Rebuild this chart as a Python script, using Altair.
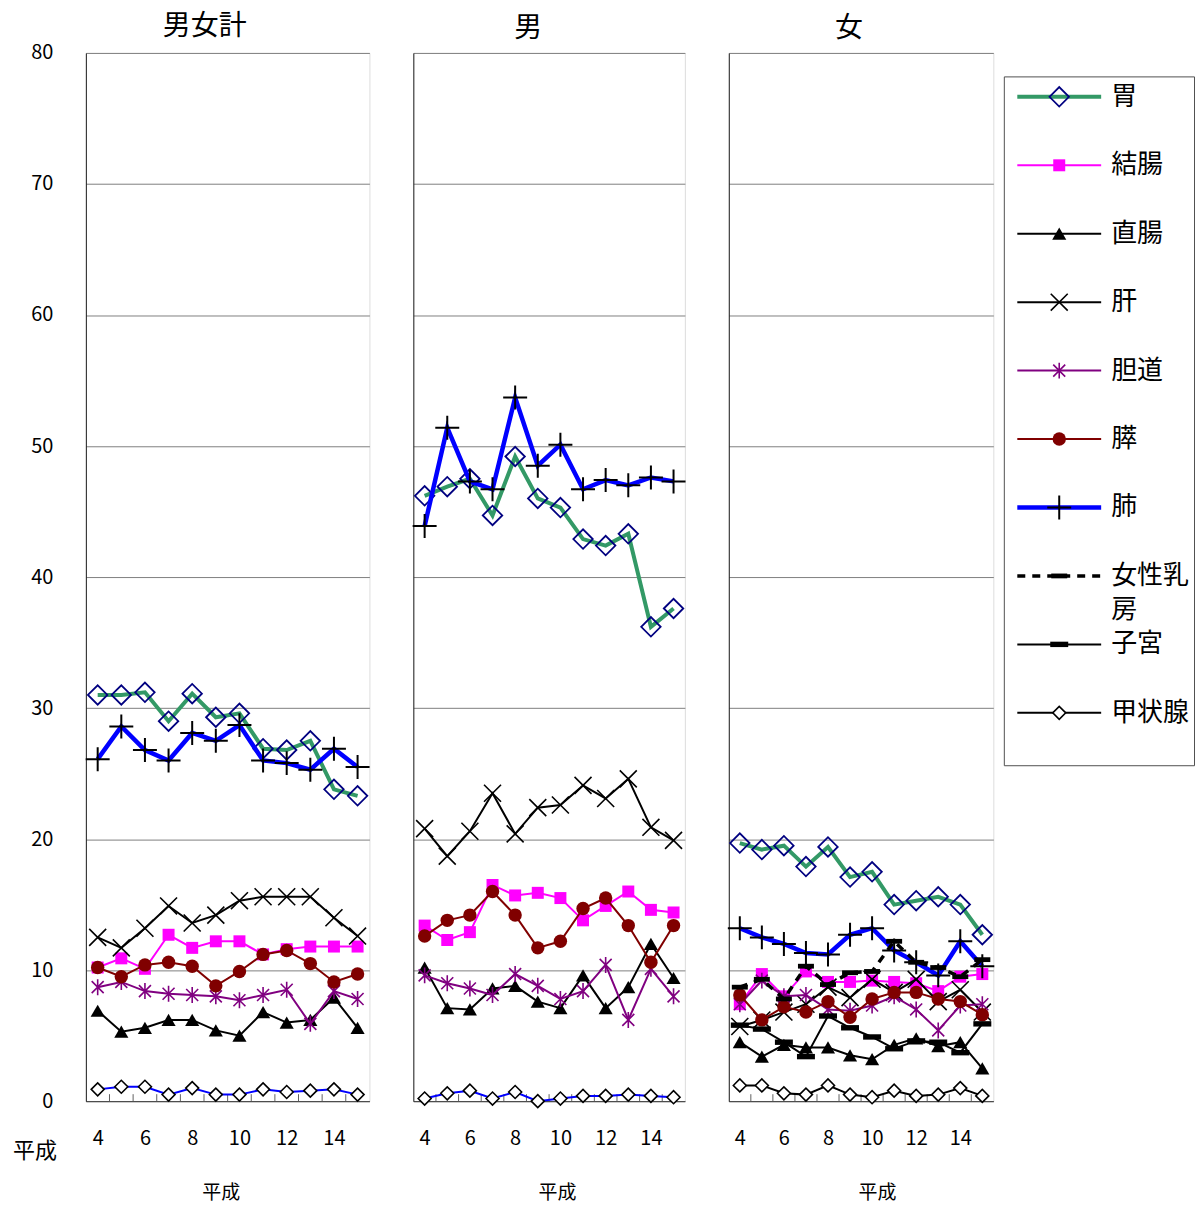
import altair as alt
import pandas as pd

# ---------------- data ----------------
years = [4, 5, 6, 7, 8, 9, 10, 11, 12, 13, 14, 15]
tick_years = [4, 6, 8, 10, 12, 14]
y_ticks = [0, 10, 20, 30, 40, 50, 60, 70, 80]
panel_titles = ["男女計", "男", "女"]
axis_title = "平成"
series = ["胃", "結腸", "直腸", "肝", "胆道", "膵", "肺", "女性乳房", "子宮", "甲状腺"]

total_stomach = [31.0, 31.0, 31.2, 29.0, 31.1, 29.3, 29.6, 26.9, 26.8, 27.5, 23.8, 23.3]
total_colon = [10.2, 10.9, 10.1, 12.7, 11.7, 12.2, 12.2, 11.2, 11.6, 11.8, 11.8, 11.8]
total_rectum = [6.9, 5.3, 5.6, 6.2, 6.2, 5.4, 5.0, 6.8, 6.0, 6.2, 7.9, 5.6]
total_liver = [12.5, 11.7, 13.2, 14.9, 13.6, 14.2, 15.3, 15.6, 15.6, 15.6, 14.0, 12.6]
total_biliary = [8.7, 9.1, 8.4, 8.2, 8.1, 8.0, 7.7, 8.1, 8.5, 5.9, 8.4, 7.8]
total_pancreas = [10.2, 9.5, 10.4, 10.6, 10.3, 8.8, 9.9, 11.2, 11.5, 10.5, 9.1, 9.7]
total_lung = [26.1, 28.6, 26.8, 26.0, 28.1, 27.5, 28.7, 26.0, 25.8, 25.3, 26.9, 25.5]
total_thyroid = [0.9, 1.1, 1.1, 0.5, 1.0, 0.5, 0.5, 0.9, 0.7, 0.8, 0.9, 0.5]

male_stomach = [46.2, 46.9, 47.5, 44.7, 49.2, 46.0, 45.3, 42.9, 42.4, 43.3, 36.2, 37.6]
male_colon = [13.4, 12.3, 12.9, 16.5, 15.7, 15.9, 15.5, 13.8, 14.9, 16.0, 14.6, 14.4]
male_rectum = [10.2, 7.1, 7.0, 8.6, 8.8, 7.6, 7.1, 9.6, 7.1, 8.7, 12.0, 9.4]
male_liver = [20.8, 18.7, 20.6, 23.5, 20.4, 22.4, 22.6, 24.1, 23.1, 24.6, 20.9, 19.9]
male_biliary = [9.6, 9.0, 8.6, 8.1, 9.7, 8.8, 7.8, 8.4, 10.4, 6.2, 10.1, 8.0]
male_pancreas = [12.6, 13.8, 14.2, 16.0, 14.2, 11.7, 12.2, 14.7, 15.5, 13.4, 10.6, 13.4]
male_lung = [43.9, 51.4, 47.3, 46.7, 53.7, 48.5, 50.1, 46.7, 47.4, 47.0, 47.6, 47.3]
male_thyroid = [0.2, 0.6, 0.8, 0.2, 0.7, 0.0, 0.2, 0.4, 0.4, 0.5, 0.4, 0.3]

female_stomach = [19.7, 19.2, 19.5, 17.9, 19.4, 17.1, 17.5, 15.0, 15.3, 15.6, 15.0, 12.7]
female_colon = [7.4, 9.7, 8.0, 9.9, 9.1, 9.1, 9.2, 9.1, 9.0, 8.4, 9.5, 9.7]
female_rectum = [4.5, 3.4, 4.3, 4.1, 4.1, 3.5, 3.2, 4.3, 4.8, 4.2, 4.5, 2.5]
female_liver = [5.7, 6.2, 6.8, 7.4, 8.7, 7.9, 9.3, 8.3, 9.3, 7.6, 8.5, 6.8]
female_biliary = [7.4, 9.2, 8.0, 8.1, 7.0, 6.9, 7.3, 8.0, 7.0, 5.4, 7.3, 7.4]
female_pancreas = [8.1, 6.2, 7.2, 6.8, 7.6, 6.4, 7.8, 8.3, 8.3, 7.8, 7.6, 6.6]
female_lung = [13.2, 12.5, 12.0, 11.3, 11.2, 12.7, 13.2, 11.5, 10.6, 9.6, 12.2, 10.3]
female_breast = [8.7, 9.3, 7.8, 10.3, 8.9, 9.8, 9.9, 12.2, 10.6, 10.2, 9.5, 10.8]
female_uterus = [5.8, 5.5, 4.5, 3.4, 6.5, 5.6, 4.9, 4.0, 4.6, 4.5, 3.7, 5.9]
female_thyroid = [1.2, 1.2, 0.6, 0.5, 1.2, 0.5, 0.3, 0.8, 0.4, 0.5, 1.0, 0.4]

panel_data = [
    {"胃": total_stomach, "結腸": total_colon, "直腸": total_rectum, "肝": total_liver,
     "胆道": total_biliary, "膵": total_pancreas, "肺": total_lung, "甲状腺": total_thyroid},
    {"胃": male_stomach, "結腸": male_colon, "直腸": male_rectum, "肝": male_liver,
     "胆道": male_biliary, "膵": male_pancreas, "肺": male_lung, "甲状腺": male_thyroid},
    {"胃": female_stomach, "結腸": female_colon, "直腸": female_rectum, "肝": female_liver,
     "胆道": female_biliary, "膵": female_pancreas, "肺": female_lung,
     "女性乳房": female_breast, "子宮": female_uterus, "甲状腺": female_thyroid},
]

# ---------------- styles ----------------
FONT = "Noto Sans CJK JP"
H = 1050
X_PATH = "M-1,-1L1,1M-1,1L1,-1"
PLUS_PATH = "M-1,0L1,0M0,-1L0,1"
STAR_PATH = "M0,-1L0,1M-0.75,-0.75L0.75,0.75M-0.75,0.75L0.75,-0.75"
DASH_PATH = "M-1,-0.3L1,-0.3L1,0.3L-1,0.3Z"

STYLE = {
    "胃": dict(line="#339966", lw=4, shape="diamond", size=380, fill="transparent", stroke="#000080", sw=1.8),
    "結腸": dict(line="#FF00FF", lw=2, shape="square", size=144, fill="#FF00FF", stroke="#FF00FF", sw=0),
    "直腸": dict(line="#000000", lw=2, shape="triangle-up", size=200, fill="#000000", stroke="#000000", sw=0),
    "肝": dict(line="#000000", lw=2, shape=X_PATH, size=289, fill="transparent", stroke="#000000", sw=1.6),
    "胆道": dict(line="#800080", lw=2, shape=STAR_PATH, size=256, fill="transparent", stroke="#800080", sw=1.6),
    "膵": dict(line="#800000", lw=2, shape="circle", size=180, fill="#800000", stroke="#800000", sw=0),
    "肺": dict(line="#0000FF", lw=4.5, shape=PLUS_PATH, size=576, fill="transparent", stroke="#000000", sw=2),
    "女性乳房": dict(line="#000000", lw=3.5, dash=[8, 7], shape=DASH_PATH, size=256, fill="#000000", stroke="#000000", sw=0),
    "子宮": dict(line="#000000", lw=2, shape=DASH_PATH, size=324, fill="#000000", stroke="#000000", sw=0),
    "甲状腺": dict(line="#000000", lw=2, shape="diamond", size=169, fill="#FFFFFF", stroke="#000000", sw=1.6),
}
thyroid_line_colors = ["#0000FF", "#0000FF", "#000000"]
panel_widths = [284, 272, 265]
title_offsets = [2, 10, 10]
title_dx = [-23, -21, -12]
axis_title_shift = [-7, 8, 16]
LEG_W = 158


def line_kwargs(st, color):
    kw = dict(color=color, strokeWidth=st["lw"])
    if "dash" in st:
        kw["strokeDash"] = st["dash"]
    return kw


def point_kwargs(st):
    return dict(shape=st["shape"], size=st["size"], filled=True, fill=st["fill"],
                stroke=st["stroke"], strokeWidth=st["sw"], opacity=1)


def make_panel(idx):
    values = panel_data[idx]
    show_y = idx == 0
    w = panel_widths[idx]
    xs = alt.Scale(domain=[3.5, 15.5], nice=False, zero=False)
    ys = alt.Scale(domain=[0, 80], nice=False, zero=True)
    xaxis = alt.Axis(values=tick_years, title=axis_title, grid=False, ticks=False,
                     labelFontSize=20, labelFont=FONT, labelPadding=27, labelColor="black",
                     labelFlush=False, labelOverlap=False,
                     titleFontSize=19, titleFont=FONT, titleFontWeight="normal",
                     titlePadding=35, titleColor="black", titleX=w / 2 + axis_title_shift[idx],
                     domainColor="#404040")
    if show_y:
        yaxis = alt.Axis(values=y_ticks, title=None, grid=True, ticks=False, labels=True,
                         labelFontSize=20, labelFont=FONT, labelPadding=33, labelColor="black",
                         domainColor="#202020", gridColor="#808080", labelFlush=False)
    else:
        yaxis = alt.Axis(values=y_ticks, title=None, grid=True, ticks=False, labels=False,
                         domainColor="#202020", gridColor="#808080")

    layers = []
    bounds_df = pd.DataFrame({"境界": [y + 0.5 for y in years[:-1]]})
    layers.append(
        alt.Chart(bounds_df).mark_rule(color="#606060", strokeWidth=1).encode(
            x=alt.X("境界:Q", scale=xs, axis=xaxis),
            y=alt.value(H - 7), y2=alt.value(H))
    )
    for name in series:
        if name not in values:
            continue
        st = STYLE[name]
        df = pd.DataFrame({"年": years, "値": values[name]})
        color = thyroid_line_colors[idx] if name == "甲状腺" else st["line"]
        base = alt.Chart(df).encode(
            x=alt.X("年:Q", scale=xs, axis=xaxis),
            y=alt.Y("値:Q", scale=ys, axis=yaxis))
        layers.append(base.mark_line(**line_kwargs(st, color)))
        layers.append(base.mark_point(**point_kwargs(st)))

    if show_y:
        t_df = pd.DataFrame({"t": [axis_title]})
        layers.append(alt.Chart(t_df).mark_text(fontSize=22, font=FONT, color="black",
                                                baseline="middle", align="center").encode(
            x=alt.value(-51), y=alt.value(H + 50), text="t:N"))

    return alt.layer(*layers).properties(
        width=w, height=H,
        title=alt.TitleParams(panel_titles[idx], fontSize=28, font=FONT, fontWeight="normal",
                              color="black", anchor="middle", offset=title_offsets[idx],
                              dx=title_dx[idx]))


def make_legend():
    labels = [n if n != "女性乳房" else "女性乳\n房" for n in series]
    leg = pd.DataFrame({"name": series, "label": labels, "idx": list(range(len(series)))})
    y_leg = alt.Y("idx:Q", scale=alt.Scale(domain=[0, len(series) - 1], range=[44, 661], nice=False, zero=False),
                  axis=None)
    layers = [
        alt.Chart(pd.DataFrame({"a": [0]})).mark_rect(fill="white", stroke="#505050", strokeWidth=1).encode(
            x=alt.value(-33), x2=alt.value(LEG_W - 0.5), y=alt.value(24), y2=alt.value(714))
    ]
    for name in series:
        st = STYLE[name]
        item = leg[leg["name"] == name]
        layers.append(alt.Chart(item).mark_rule(**line_kwargs(st, st["line"])).encode(
            x=alt.value(-20), x2=alt.value(64), y=y_leg))
        layers.append(alt.Chart(item).mark_point(**point_kwargs(st)).encode(
            x=alt.value(22), y=y_leg))
    single = leg[leg["name"] != "女性乳房"]
    multi = leg[leg["name"] == "女性乳房"]
    layers.append(alt.Chart(single).mark_text(align="left", baseline="middle", fontSize=26, font=FONT,
                                              color="black").encode(
        x=alt.value(74), y=y_leg, text="label:N"))
    layers.append(alt.Chart(multi).mark_text(align="left", baseline="middle", fontSize=26, font=FONT,
                                             color="black", lineBreak="\n", lineHeight=34).encode(
        x=alt.value(74), y=y_leg, text="label:N"))
    return alt.layer(*layers).properties(width=LEG_W, height=H,
                                         view=alt.ViewBackground(stroke="transparent"))


chart = alt.hconcat(make_panel(0), make_panel(1), make_panel(2), make_legend(),
                    spacing=44, bounds="flush",
                    padding={"left": 4, "top": 3, "right": 0, "bottom": 0}).configure_view(
    stroke="#808080", strokeWidth=1).configure(background="white")

chart.save("out.html", embed_options={"renderer": "svg", "actions": False})
